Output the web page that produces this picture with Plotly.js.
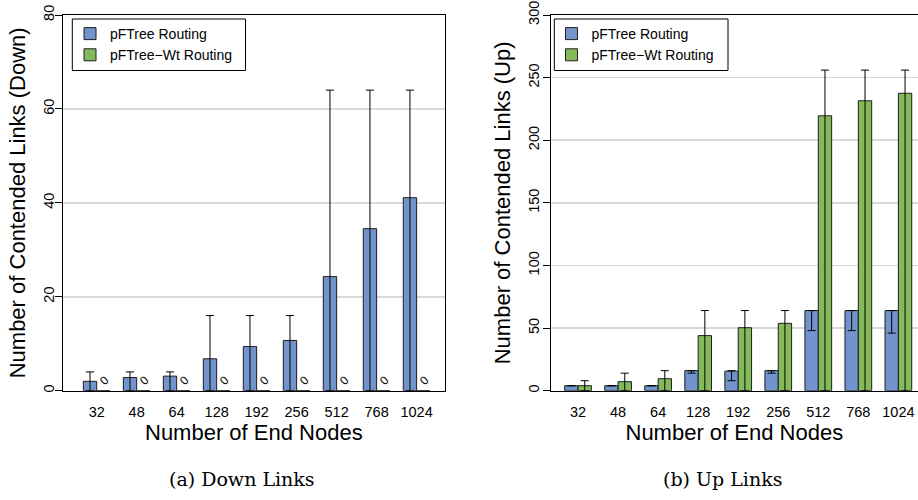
<!DOCTYPE html>
<html><head><meta charset="utf-8">
<script src="https://cdn.plot.ly/plotly-3.0.1.min.js"></script>
<style>html,body{margin:0;padding:0;background:#fff}#chart{width:918px;height:500px}</style>
</head><body><div id="chart"></div>
<script>
// ---- data ----
const endNodes = ['32', '48', '64', '128', '192', '256', '512', '768', '1024'];
// (a) Down links
const downPF    = [2.0, 2.8, 3.1, 6.8, 9.4, 10.7, 24.3, 34.5, 41.1];
const downPFMax = [4, 4, 4, 16, 16, 16, 64, 64, 64];
const downPFMin = [0, 0, 0, 0, 0, 0, 0, 0, 0];
const downWt    = [0, 0, 0, 0, 0, 0, 0, 0, 0];
// (b) Up links
const upPF    = [4, 4, 4, 16, 15.6, 16, 64, 64, 64];
const upPFMax = [4, 4, 4, 16, 16, 16, 64, 64, 64];
const upPFMin = [4, 4, 4, 14, 8, 14, 48, 48, 46];
const upWt    = [4, 7.2, 9.6, 44, 50.3, 53.8, 219.5, 231.5, 237.5];
const upWtMax = [8, 14, 16, 64, 64, 64, 256, 256, 256];
const upWtMin = [0, 0, 0, 0, 0, 0, 0, 0, 0];
const downTicks = [0, 20, 40, 60, 80];
const upTicks = [0, 50, 100, 150, 200, 250, 300];
const seriesNames = ['pFTree Routing', 'pFTree\u2212Wt Routing'];
const captions = ['(a) Down Links', '(b) Up Links'];

// ---- styling ----
const W = 918, H = 500;
const BLUE = '#7293CB', GREEN = '#84BA5B';
const FONT = '"Liberation Sans", Arial, Helvetica, sans-serif';
const px = v => v / W, py = v => 1 - v / H;

function errs(val, mx, mn) {
  return {
    type: 'data', symmetric: false,
    array: val.map((v, i) => mx[i] - v),
    arrayminus: val.map((v, i) => v - mn[i]),
    color: '#000', thickness: 1, width: 4, visible: true
  };
}
function barTrace(y, err, name, color, xa, ya, leg) {
  const t = {
    type: 'bar', x: endNodes, y: y, name: name, xaxis: xa, yaxis: ya, legend: leg,
    marker: {color: color, line: {color: '#1e1e1e', width: 1}},
    hoverinfo: 'x+y'
  };
  if (err) t.error_y = err;
  return t;
}

const traces = [
  barTrace(downPF, errs(downPF, downPFMax, downPFMin), seriesNames[0], BLUE, 'x', 'y', 'legend'),
  barTrace(downWt, null, seriesNames[1], GREEN, 'x', 'y', 'legend'),
  barTrace(upPF, errs(upPF, upPFMax, upPFMin), seriesNames[0], BLUE, 'x2', 'y2', 'legend2'),
  barTrace(upWt, errs(upWt, upWtMax, upWtMin), seriesNames[1], GREEN, 'x2', 'y2', 'legend2')
];

const yDom = [py(390.7), py(15)];
function xAxis(dom, range) {
  return {
    domain: dom, type: 'category', range: range, showline: true, mirror: true,
    linecolor: '#000', linewidth: 1, ticks: '', showgrid: false, zeroline: false,
    tickfont: {size: 14.5, color: '#000'}, ticklabelstandoff: 8, automargin: false,
    title: {text: 'Number of End Nodes', font: {size: 22, color: '#000'}, standoff: 4},
    fixedrange: true
  };
}
function yAxis(anchor, range, ticks, title, mirror, standoff, lblOff) {
  return {
    domain: yDom, anchor: anchor, range: range, tickmode: 'array', tickvals: ticks,
    ticktext: ticks.map(String), tickangle: -90, ticks: 'outside', ticklen: 7,
    tickcolor: '#000', tickwidth: 1, showline: true, mirror: mirror, linecolor: '#000',
    linewidth: 1, showgrid: true, gridcolor: '#d9d9d9', gridwidth: 1.5, zeroline: false,
    tickfont: {size: 14.5, color: '#000'}, automargin: false, ticklabelstandoff: lblOff,
    title: {text: title, font: {size: 22, color: '#000'}, standoff: standoff},
    fixedrange: true
  };
}

const xa1 = xAxis([px(62.7), px(445)], [-0.85, 8.71]); xa1.anchor = 'y';
const xa2 = xAxis([px(550.7), 1], [-0.683, 8.49]); xa2.anchor = 'y2';

const annotations = [];
endNodes.forEach((c, i) => {
  annotations.push({
    x: i, y: downWt[i], xref: 'x', yref: 'y', text: String(downWt[i]),
    showarrow: false, textangle: -45, xshift: 8.3, yshift: 10.5,
    xanchor: 'center', yanchor: 'middle',
    font: {size: 12, color: '#000', family: FONT}
  });
});
annotations.push({x: px(241.5), y: py(479), xref: 'paper', yref: 'paper', text: captions[0],
  xanchor: 'center', yanchor: 'middle',
  showarrow: false, font: {family: '"DejaVu Serif", serif', size: 19, color: '#000'}});
annotations.push({x: px(722.5), y: py(479), xref: 'paper', yref: 'paper', text: captions[1],
  xanchor: 'center', yanchor: 'middle',
  showarrow: false, font: {family: '"DejaVu Serif", serif', size: 19, color: '#000'}});

const legendBase = {
  xanchor: 'left', yanchor: 'top', bgcolor: 'rgba(0,0,0,0)', borderwidth: 0,
  font: {size: 14, color: '#000', family: FONT}, orientation: 'v', traceorder: 'normal',
  itemclick: false, itemdoubleclick: false
};

const layout = {
  width: W, height: H, margin: {l: 0, r: 0, t: 0, b: 0},
  paper_bgcolor: '#fff', plot_bgcolor: '#fff',
  font: {family: FONT, color: '#000'},
  barmode: 'group', bargap: 0.333, bargroupgap: 0,
  showlegend: true,
  xaxis: xa1,
  yaxis: yAxis('x', [0, 80], downTicks, 'Number of Contended Links (Down)', true, 9, -5),
  xaxis2: xa2,
  yaxis2: yAxis('x2', [0, 300], upTicks, 'Number of Contended Links (Up)', false, 9, -2),
  legend: Object.assign({}, legendBase, {x: px(70), y: py(18)}),
  legend2: Object.assign({}, legendBase, {x: px(551.5), y: py(18)}),
  shapes: [
    {type: 'rect', xref: 'paper', yref: 'paper', x0: px(72.3), x1: px(245.5), y0: py(70.5), y1: py(19),
     line: {color: '#000', width: 1}, fillcolor: 'rgba(0,0,0,0)'},
    {type: 'rect', xref: 'paper', yref: 'paper', x0: px(554.3), x1: px(728), y0: py(70.5), y1: py(19),
     line: {color: '#000', width: 1}, fillcolor: 'rgba(0,0,0,0)'}
  ],
  annotations: annotations
};

Plotly.newPlot('chart', traces, layout, {displayModeBar: false, staticPlot: true});
</script>
</body></html>
